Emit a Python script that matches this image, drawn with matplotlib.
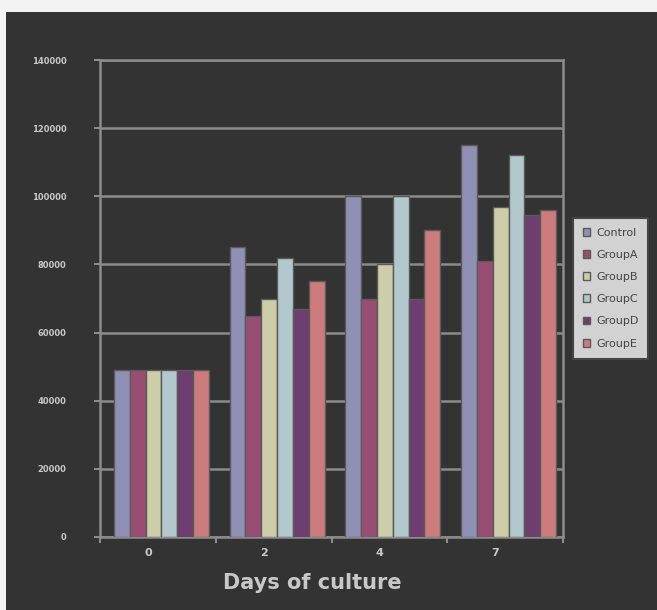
import numpy as np
import matplotlib.pyplot as plt
import matplotlib.transforms as mtransforms
from matplotlib.patches import Rectangle

# data
days = ['0', '2', '4', '7']
groups = ['Control', 'GroupA', 'GroupB', 'GroupC', 'GroupD', 'GroupE']
control = [49000, 85000, 100000, 115000]
group_a = [49000, 65000, 70000, 81000]
group_b = [49000, 70000, 80000, 97000]
group_c = [49000, 82000, 100000, 112000]
group_d = [49000, 67000, 70000, 94500]
group_e = [49000, 75000, 90000, 96000]
series = [control, group_a, group_b, group_c, group_d, group_e]

colors = ['#9090b6', '#984e72', '#cdcdaa', '#b2c8cc', '#6e3e70', '#cc7c7c']

BG = '#333333'
LINE = '#8c8c8c'
TXT = '#c8c8c8'

fig = plt.figure(figsize=(6.57, 6.10), dpi=100, facecolor=BG)
# light strips at top and left, like the screenshot border
fig.patches.append(Rectangle((0, 1 - 12 / 610), 1, 12 / 610, transform=fig.transFigure,
                             facecolor='#f3f3f3', edgecolor='none', zorder=0))
fig.patches.append(Rectangle((0, 0), 6 / 657, 1, transform=fig.transFigure,
                             facecolor='#f3f3f3', edgecolor='none', zorder=0))

ax = fig.add_axes([100 / 657, 1 - 537 / 610, 463 / 657, 477 / 610])
ax.set_facecolor(BG)

x = np.arange(len(days))
width = 0.82 / len(groups)
shift = 0.03
for i, (vals, col, name) in enumerate(zip(series, colors, groups)):
    offs = (i - (len(groups) - 1) / 2) * width + shift
    ax.bar(x + offs, vals, width, color=col, edgecolor='#5a5a5a', linewidth=1.0,
           label=name, zorder=3)

ax.set_xlim(-0.5, len(days) - 0.5)
ax.set_ylim(0, 140000)
ax.set_yticks(np.arange(0, 140001, 20000))
ax.set_yticklabels([str(v) for v in range(0, 140001, 20000)], color=TXT,
                   fontsize=6, fontweight='bold')
ax.yaxis.grid(True, color=LINE, linewidth=1.8, zorder=1)
ax.set_axisbelow(True)

ax.set_xticks(x)
ax.set_xticklabels(days, color=TXT, fontsize=8, fontweight='bold')
ax.set_xticks(np.arange(-0.5, len(days), 1), minor=True)
ax.tick_params(axis='x', which='major', length=0, pad=8)
ax.tick_params(axis='x', which='minor', length=4, color=LINE, width=1.5)
ax.tick_params(axis='y', length=4, color=LINE, width=1.5, pad=20)
# tick labels sit a little left of the group centres in the reference
off = mtransforms.ScaledTranslation(-10 / 100, 0, fig.dpi_scale_trans)
for lab in ax.get_xticklabels():
    lab.set_transform(lab.get_transform() + off)

for sp in ax.spines.values():
    sp.set_color(LINE)
    sp.set_linewidth(1.8)

ax.set_xlabel('Days of culture', color=TXT, fontsize=15, fontweight='bold')
ax.xaxis.set_label_coords(0.458, -0.075)

leg = fig.legend(loc='upper left', bbox_to_anchor=(567 / 657, 1 - 212 / 610),
                 fontsize=8, frameon=True, fancybox=False, framealpha=1,
                 handlelength=0.7, handleheight=0.7, handletextpad=0.5,
                 labelspacing=1.1, borderpad=0.9, labelcolor='#444444')
leg.get_frame().set_facecolor('#d2d2d2')
leg.get_frame().set_edgecolor('#444444')
leg.get_frame().set_linewidth(1.5)

fig.savefig('out.png', dpi=100, facecolor=BG)
